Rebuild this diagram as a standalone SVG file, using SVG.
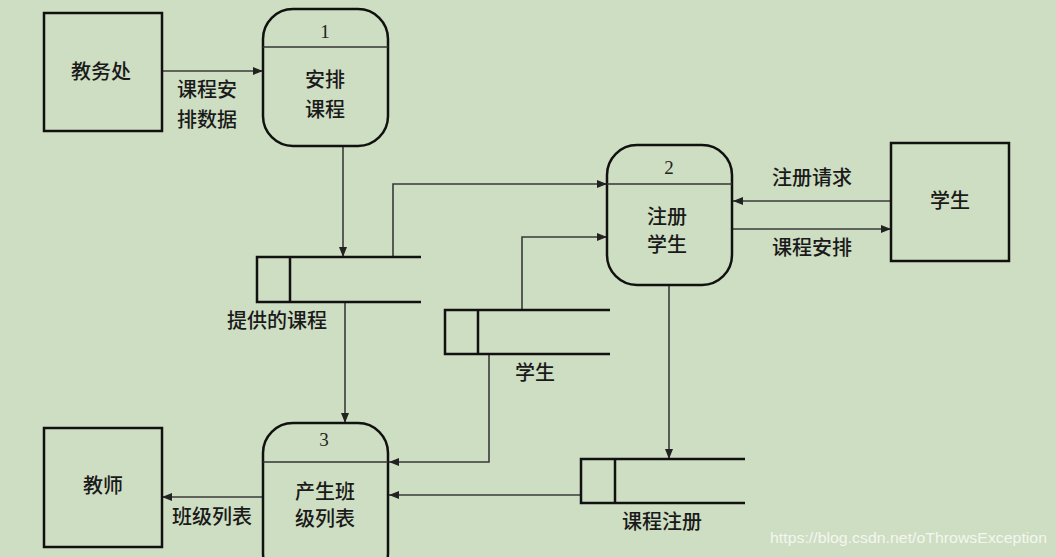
<svg xmlns="http://www.w3.org/2000/svg" width="1056" height="557" viewBox="0 0 1056 557">
<defs>
<marker id="arr" viewBox="0 0 10 8" refX="10" refY="4" markerWidth="10" markerHeight="8" markerUnits="userSpaceOnUse" orient="auto">
<path d="M0,0 L10,4 L0,8 Z" fill="#222"/>
</marker>
<style>
.box{fill:none;stroke:#111;stroke-width:2.5}
.proc{fill:none;stroke:#111;stroke-width:2.5}
.div{stroke:#333;stroke-width:1.5}
.store{fill:none;stroke:#111;stroke-width:2.5}
.conn{fill:none;stroke:#3a3a3a;stroke-width:1.6;marker-end:url(#arr)}
.t{font-family:"Noto Sans CJK SC","Noto Sans",sans-serif;font-size:20px;font-weight:500;fill:#1a1a1a;text-anchor:middle}
.n{font-family:"Liberation Serif",serif;font-size:19px;fill:#222;text-anchor:middle}
.wm{font-family:"Liberation Sans",Arial,sans-serif;font-size:15.5px;fill:#f4f6f0}
</style>
</defs>
<rect x="0" y="0" width="1056" height="557" fill="#cedec2"/>

<g id="connectors">
<line class="conn" x1="162" y1="71" x2="263" y2="71"/>
<line class="conn" x1="343" y1="146" x2="343" y2="257"/>
<polyline class="conn" points="393,257 393,184 607,184"/>
<polyline class="conn" points="522,310 522,237 607,237"/>
<line class="conn" x1="891" y1="201" x2="733" y2="201"/>
<line class="conn" x1="732" y1="229" x2="891" y2="229"/>
<line class="conn" x1="345" y1="302" x2="345" y2="423"/>
<polyline class="conn" points="489,354 489,462 389,462"/>
<line class="conn" x1="669" y1="285" x2="669" y2="459"/>
<line class="conn" x1="581" y1="495" x2="389" y2="495"/>
<line class="conn" x1="263" y1="497" x2="162" y2="497"/>
<text class="t" x="207" y="97">课程安</text>
<text class="t" x="207" y="127">排数据</text>
<text class="t" x="812" y="185">注册请求</text>
<text class="t" x="812" y="255">课程安排</text>
<text class="t" x="212" y="524">班级列表</text>
</g>

<g id="jiaowuchu">
<rect class="box" x="44" y="13" width="118" height="118"/>
<text class="t" x="101" y="79">教务处</text>
</g>

<g id="p1">
<rect class="proc" x="263" y="9" width="125" height="137" rx="30" ry="30"/>
<line class="div" x1="263" y1="47" x2="388" y2="47"/>
<text class="n" x="325" y="38">1</text>
<text class="t" x="325" y="87">安排</text>
<text class="t" x="325" y="117">课程</text>
</g>

<g id="p2">
<rect class="proc" x="607" y="145" width="125" height="140" rx="30" ry="30"/>
<line class="div" x1="607" y1="184" x2="732" y2="184"/>
<text class="n" x="669" y="174">2</text>
<text class="t" x="667" y="224">注册</text>
<text class="t" x="667" y="252">学生</text>
</g>

<g id="student">
<rect class="box" x="891" y="143" width="118" height="118"/>
<text class="t" x="950" y="208">学生</text>
</g>

<g id="store-courses">
<path class="store" d="M421,257 H257 V302 H421 M290,257 V302"/>
<text class="t" x="277" y="328">提供的课程</text>
</g>

<g id="store-students">
<path class="store" d="M610,310 H445 V354 H610 M478,310 V354"/>
<text class="t" x="535" y="380">学生</text>
</g>

<g id="store-reg">
<path class="store" d="M745,459 H581 V503 H745 M615,459 V503"/>
<text class="t" x="662" y="529">课程注册</text>
</g>

<g id="p3">
<rect class="proc" x="263" y="423" width="125" height="160" rx="30" ry="30"/>
<line class="div" x1="263" y1="462" x2="388" y2="462"/>
<text class="n" x="324" y="446">3</text>
<text class="t" x="325" y="499">产生班</text>
<text class="t" x="325" y="526">级列表</text>
</g>

<g id="teacher">
<rect class="box" x="44" y="428" width="118" height="119"/>
<text class="t" x="103" y="493">教师</text>
</g>

<text class="wm" x="770" y="543" textLength="277" lengthAdjust="spacingAndGlyphs">https://blog.csdn.net/oThrowsException</text>
</svg>
